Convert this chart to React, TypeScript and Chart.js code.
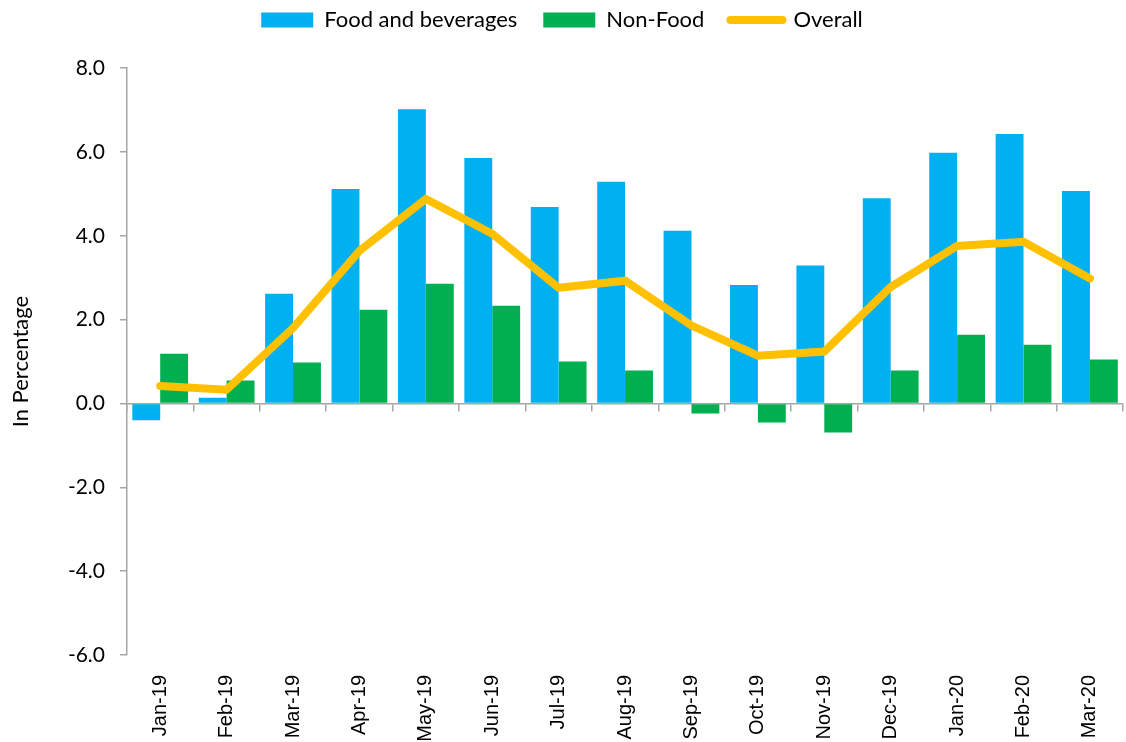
import React, { useEffect, useRef } from "react";
import { Chart, registerables } from "chart.js";

Chart.register(...registerables);

const categories = ["Jan-19", "Feb-19", "Mar-19", "Apr-19", "May-19", "Jun-19", "Jul-19", "Aug-19", "Sep-19", "Oct-19", "Nov-19", "Dec-19", "Jan-20", "Feb-20", "Mar-20"];
const foodValues = [-0.4, 0.14, 2.62, 5.12, 7.02, 5.86, 4.69, 5.29, 4.12, 2.83, 3.29, 4.9, 5.98, 6.43, 5.07];
const nonFoodValues = [1.19, 0.55, 0.98, 2.24, 2.86, 2.33, 1.0, 0.79, -0.24, -0.45, -0.69, 0.79, 1.64, 1.4, 1.05];
const overallValues = [0.42, 0.33, 1.8, 3.64, 4.88, 4.05, 2.76, 2.93, 1.86, 1.14, 1.24, 2.78, 3.76, 3.86, 2.98];
const seriesNames = ["Food and beverages", "Non-Food", "Overall"];
const yTicks = [-6, -4, -2, 0, 2, 4, 6, 8];

const BLUE = "#00B0F0";
const GREEN = "#00B050";
const GOLD = "#FFC000";
const AXIS = "#A6A6A6";

export default function App() {
  const ref = useRef<HTMLCanvasElement>(null);
  useEffect(() => {
    if (!ref.current) return;
    const chart = new Chart(ref.current, {
      type: "bar",
      data: {
        labels: categories,
        datasets: [
          {
            type: "line",
            label: seriesNames[2],
            data: overallValues,
            borderColor: GOLD,
            backgroundColor: GOLD,
            borderWidth: 8,
            pointRadius: 0,
            tension: 0,
            borderCapStyle: "round",
            borderJoinStyle: "miter",
            order: 0,
            xAxisID: "x",
            yAxisID: "y",
          } as any,
          {
            type: "bar",
            label: seriesNames[0],
            data: foodValues,
            backgroundColor: BLUE,
            categoryPercentage: 0.84,
            barPercentage: 1.0,
            order: 1,
            xAxisID: "x",
            yAxisID: "y",
          },
          {
            type: "bar",
            label: seriesNames[1],
            data: nonFoodValues,
            backgroundColor: GREEN,
            categoryPercentage: 0.84,
            barPercentage: 1.0,
            order: 2,
            xAxisID: "x",
            yAxisID: "y",
          },
        ],
      },
      options: {
        responsive: false,
        animation: false,
        layout: { padding: { top: -17, left: 0, right: 2, bottom: 0 } },
        plugins: {
          tooltip: { enabled: false },
          title: {
            display: true,
            text: "",
            position: "top",
            weight: 500,
            font: { size: 1 },
            padding: { top: 0, bottom: 26 },
          },
          legend: {
            position: "top",
            labels: {
              usePointStyle: true,
              pointStyleWidth: 52,
              boxHeight: 15,
              padding: 26,
              color: "#000",
              font: { family: "Lato", size: 22 },
              generateLabels: () => [
                { text: seriesNames[0], fillStyle: BLUE, strokeStyle: BLUE, lineWidth: 0, pointStyle: "rect", datasetIndex: 1, hidden: false, fontColor: "#000" },
                { text: seriesNames[1], fillStyle: GREEN, strokeStyle: GREEN, lineWidth: 0, pointStyle: "rect", datasetIndex: 2, hidden: false, fontColor: "#000" },
                { text: seriesNames[2], fillStyle: GOLD, strokeStyle: GOLD, lineWidth: 8, lineCap: "round", pointStyle: "line", datasetIndex: 0, hidden: false, fontColor: "#000" },
              ] as any,
            },
          },
        },
        scales: {
          x: {
            type: "category",
            position: "bottom",
            offset: true,
            grid: { display: false },
            border: { display: false },
            ticks: {
              maxRotation: 90,
              minRotation: 90,
              padding: 12,
              color: "#000",
              font: { family: "Liberation Sans", size: 20 },
            },
            afterFit: (s: any) => {
              s.height = 87;
            },
          },
          x0: {
            type: "category",
            position: { y: 0 } as any,
            offset: true,
            grid: { display: true, drawOnChartArea: false, offset: true, tickLength: 7, color: AXIS, lineWidth: 1.5 },
            border: { display: true, color: AXIS, width: 1.5 },
            ticks: { display: false },
          },
          y: {
            type: "linear",
            position: "left",
            min: -6,
            max: 8,
            afterBuildTicks: (s: any) => {
              s.ticks = yTicks.map((v) => ({ value: v }));
            },
            grid: { display: true, drawOnChartArea: false, tickLength: 7, color: AXIS, lineWidth: 1.5 },
            border: { display: true, color: AXIS, width: 1.5 },
            ticks: {
              padding: 15,
              color: "#000",
              font: { family: "Lato", size: 21 },
              callback: (v: any) => Number(v).toFixed(1),
            },
            title: {
              display: true,
              text: "In Percentage",
              color: "#000",
              font: { family: "Lato", size: 22 },
              padding: { top: 8, bottom: 0 },
            },
            afterFit: (s: any) => {
              s.width = 127;
            },
          },
        },
      },
    });
    return () => chart.destroy();
  }, []);
  return (
    <div style={{ position: "absolute", left: 0, top: 0, width: 1126, height: 742 }}>
      <canvas ref={ref} width={1126} height={742} />
    </div>
  );
}
